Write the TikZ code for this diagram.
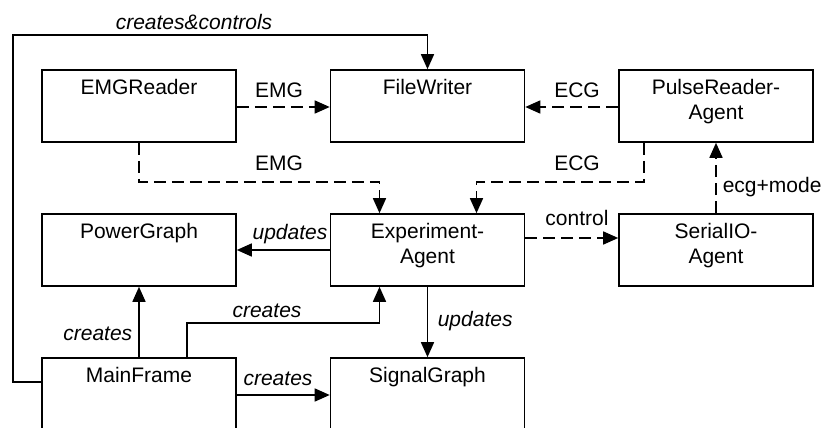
\documentclass[tikz,border=0pt]{standalone}
\usepackage{fontspec}
\setmainfont{Liberation Sans}
\usetikzlibrary{arrows.meta,calc}

\begin{document}
\begin{tikzpicture}[
  x=1pt, y=-1pt,
  line width=1.6pt,
  >={Triangle[length=15pt,width=13pt]},
  block/.style={draw, rectangle, minimum width=194pt, minimum height=72pt, inner sep=0pt},
  blocktext/.style={anchor=north, yshift=-9pt, inner sep=0pt, align=center,
                    font=\fontsize{21}{25}\selectfont},
  lbl/.style={inner sep=0pt, anchor=base, font=\fontsize{21}{25}\selectfont},
  ilbl/.style={lbl, font=\fontsize{21}{25}\selectfont\itshape},
  flow/.style={->},
  dflow/.style={->, dash pattern=on 12pt off 6pt},
]
\useasboundingbox (0,0) rectangle (823,428);

% component blocks
\node[block, label={[blocktext]north:EMGReader}]              (emg) at (139,106) {};
\node[block, label={[blocktext]north:FileWriter}]             (fw)  at (427.5,106) {};
\node[block, label={[blocktext]north:PulseReader-\\Agent}]    (pr)  at (716,106) {};
\node[block, label={[blocktext]north:PowerGraph}]             (pg)  at (139,250) {};
\node[block, label={[blocktext]north:Experiment-\\Agent}]     (ea)  at (427.5,250) {};
\node[block, label={[blocktext]north:SerialIO-\\Agent}]       (sio) at (716,250) {};
\node[block, label={[blocktext]north:MainFrame}]              (mf)  at (139,394) {};
\node[block, label={[blocktext]north:SignalGraph}]            (sg)  at (427.5,394) {};

% routing rows
\coordinate (rowTop) at (0,35);
\coordinate (rowData) at (0,182);
\coordinate (rowCreate) at (0,323);

% MainFrame creates & controls FileWriter (around the left side)
\draw[flow] ([yshift=12pt]mf.west) -- ++(-28,0) |- (fw.north |- rowTop) -- (fw.north);

% data streams into FileWriter
\draw[dflow] ([yshift=-1pt]emg.east) -- ([yshift=-1pt]fw.west);
\draw[dflow] ([yshift=-1pt]pr.west) -- ([yshift=-1pt]fw.east);

% data streams into Experiment-Agent
\draw[dflow] (emg.south) |- ([xshift=-48pt]ea.north |- rowData) -- ([xshift=-48pt]ea.north);
\draw[dflow] ([xshift=-72pt]pr.south) |- ([xshift=49pt]ea.north |- rowData) -- ([xshift=49pt]ea.north);

% Experiment-Agent relations
\draw[flow]  (ea.west) -- (pg.east);
\draw[dflow] ([yshift=12pt]ea.east) -- ([yshift=12pt]sio.west);
\draw[flow]  (ea.south) -- (sg.north);

% SerialIO-Agent feeds PulseReader-Agent
\draw[dflow] (sio.north) -- (pr.south);

% MainFrame creates the other parts
\draw[flow] (mf.north) -- (pg.south);
\draw[flow] ([xshift=48pt]mf.north) -- ([xshift=48pt]mf.north |- rowCreate) -| ([xshift=-48pt]ea.south);
\draw[flow] ([yshift=-1pt]mf.east) -- ([yshift=-1pt]sg.west);

% connector labels
\node[ilbl] (lcc)   at (194,30)  {creates\&controls};
\node[lbl]  (lemg1) at (279,98)  {EMG};
\node[lbl]  (lecg1) at (577,98)  {ECG};
\node[lbl]  (lemg2) at (279,170) {EMG};
\node[lbl]  (lecg2) at (577,170) {ECG};
\node[lbl]  (lctl)  at (577,225) {control};
\node[ilbl] (lupd1) at (290,239) {updates};
\node[lbl, anchor=base west] (lmode) at (722,193) {ecg+mode};
\node[ilbl, anchor=base east] (lcr1) at (133,340) {creates};
\node[ilbl] (lcr2)  at (267,317) {creates};
\node[ilbl] (lcr3)  at (278,385) {creates};
\node[ilbl, anchor=base west] (lupd2) at (437,326) {updates};
\end{tikzpicture}
\end{document}
